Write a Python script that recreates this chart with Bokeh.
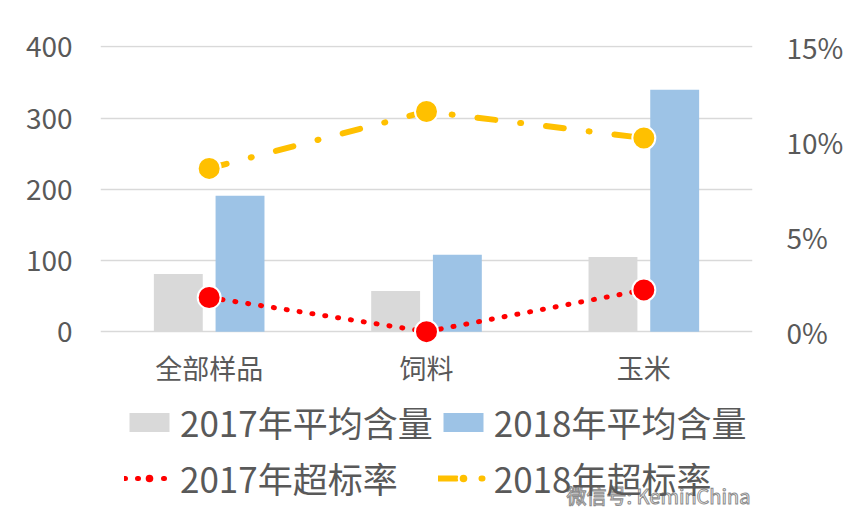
from bokeh.plotting import figure
from bokeh.models import (ColumnDataSource, FactorRange, Range1d, LinearAxis, Legend,
                          LegendItem, Label, FixedTicker, PrintfTickFormatter)
from bokeh.core.properties import value
from bokeh.transform import dodge
from bokeh.embed import file_html
from bokeh.resources import INLINE

categories = ["全部样品", "饲料", "玉米"]
avg_2017 = [81, 57, 105]
avg_2018 = [191, 108, 340]
rate_2017 = [1.8, 0.0, 2.2]
rate_2018 = [8.6, 11.6, 10.2]
left_ticks = [0, 100, 200, 300, 400]
right_ticks = [0, 5, 10, 15]

FONT = "Noto Sans CJK SC"
TXT = "#595959"

# vertical geometry (pixels): value axis 0..400 spans 285 px, frame reaches canvas bottom
PX_PER_UNIT = 285 / 400
Y_TOP = 402
Y_BOTTOM = -182 / PX_PER_UNIT
PCT_SCALE = 15 / 400

src = ColumnDataSource(dict(cat=categories, a17=avg_2017, a18=avg_2018,
                            r17=rate_2017, r18=rate_2018,
                            lab_y=[-50.5] * len(categories)))

p = figure(width=847, height=513, x_range=FactorRange(*categories),
           y_range=Range1d(Y_BOTTOM, Y_TOP), output_backend="svg", toolbar_location=None,
           min_border_left=100, min_border_right=95, min_border_top=45,
           min_border_bottom=0)
p.outline_line_color = None
p.background_fill_color = "white"
p.border_fill_color = "white"
p.extra_y_ranges = {"pct": Range1d(Y_BOTTOM * PCT_SCALE, Y_TOP * PCT_SCALE)}
p.xaxis.visible = False

# axes
p.yaxis.ticker = FixedTicker(ticks=left_ticks)
p.ygrid.ticker = FixedTicker(ticks=left_ticks)
p.xgrid.grid_line_color = None
p.ygrid.grid_line_color = "#d9d9d9"
p.ygrid.grid_line_width = 1.5

ax = p.yaxis[0]
ax.axis_line_color = None
ax.major_tick_line_color = None
ax.minor_tick_line_color = None
ax.major_label_text_font = FONT
ax.major_label_text_color = TXT
ax.major_label_text_font_size = "28px"
ax.major_label_standoff = 22

right = LinearAxis(y_range_name="pct", ticker=FixedTicker(ticks=right_ticks),
                   formatter=PrintfTickFormatter(format="%d%%"))
right.axis_line_color = None
right.major_tick_line_color = None
right.minor_tick_line_color = None
right.major_label_text_font = FONT
right.major_label_text_color = TXT
right.major_label_text_font_size = "28px"
right.major_label_standoff = 28
p.add_layout(right, "right")

# category labels (drawn below the 0 line)
p.text(x="cat", y="lab_y", text="cat", source=src, text_font=value(FONT),
       text_font_size="27px", text_color=TXT, text_align="center",
       text_baseline="middle")

# bars
b17 = p.vbar(x=dodge("cat", -0.142, range=p.x_range), top="a17", width=0.225,
             source=src, fill_color="#d9d9d9", line_color=None)
b18 = p.vbar(x=dodge("cat", 0.142, range=p.x_range), top="a18", width=0.225,
             source=src, fill_color="#9dc3e6", line_color=None)

# lines
l17 = p.line(x="cat", y="r17", source=src, y_range_name="pct", line_color="#ff0000",
             line_width=5, line_dash="1 12", line_cap="round")
s17 = p.scatter(x="cat", y="r17", source=src, y_range_name="pct", size=23,
                fill_color="#ff0000", line_color="white", line_width=2)
l18 = p.line(x="cat", y="r18", source=src, y_range_name="pct", line_color="#ffc000",
             line_width=6, line_dash="18 25 1 25", line_cap="round")
s18 = p.scatter(x="cat", y="r18", source=src, y_range_name="pct", size=23,
                fill_color="#ffc000", line_color="white", line_width=2)

legend = Legend(items=[
    LegendItem(label="2017年平均含量", renderers=[b17]),
    LegendItem(label="2017年超标率", renderers=[l17, s17]),
    LegendItem(label="2018年平均含量", renderers=[b18]),
    LegendItem(label="2018年超标率", renderers=[l18, s18]),
], ncols=2, location=(24, 10))
legend.label_text_font = FONT
legend.label_text_font_size = "35px"
legend.label_text_color = TXT
legend.glyph_width = 50
legend.glyph_height = 24
legend.label_standoff = 6
legend.spacing = 5
legend.padding = 0
legend.margin = 0
legend.border_line_color = None
legend.background_fill_alpha = 0
p.add_layout(legend, "center")

wm = Label(x=466, y=18, x_units="screen", y_units="screen", text="微信号: KeminChina",
           text_font=FONT, text_font_size="20px", text_color="white",
           text_outline_color="#8c8c8c", text_baseline="middle")
p.add_layout(wm)

open("out.html", "w").write(file_html(p, INLINE))
